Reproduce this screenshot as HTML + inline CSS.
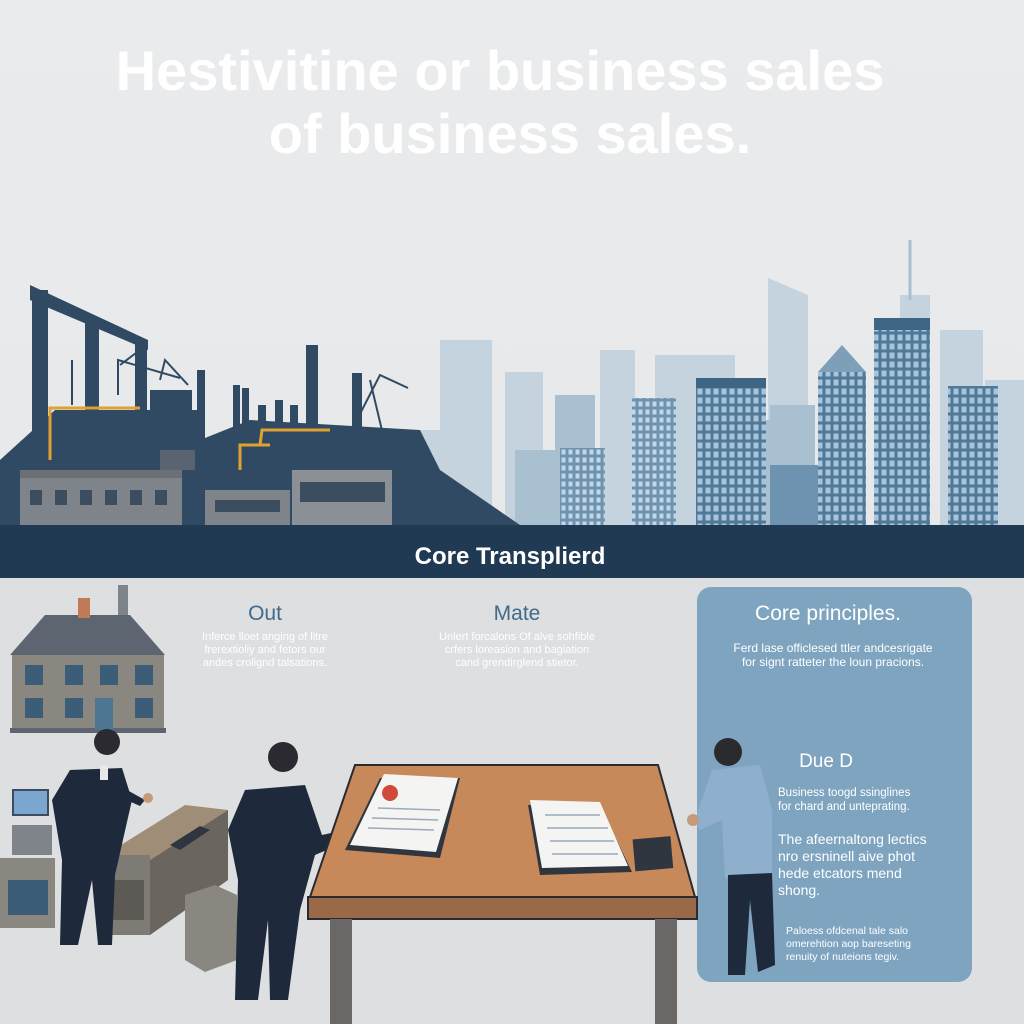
<!DOCTYPE html>
<html><head><meta charset="utf-8"><style>
html,body{margin:0;padding:0;width:1024px;height:1024px;overflow:hidden;font-family:"Liberation Sans",sans-serif}
</style></head><body>
<svg width="1024" height="1024" viewBox="0 0 1024 1024" xmlns="http://www.w3.org/2000/svg" font-family="Liberation Sans, sans-serif">
<defs>
<linearGradient id="bg" x1="0" y1="0" x2="0" y2="1"><stop offset="0" stop-color="#e9ebed"/><stop offset="1" stop-color="#e4e6e8"/></linearGradient>
<pattern id="win" width="8" height="9" patternUnits="userSpaceOnUse"><rect width="8" height="9" fill="#4f7899"/><rect x="1.5" y="1.5" width="5" height="6" fill="#a8c4d8"/></pattern>
<pattern id="win2" width="7" height="8" patternUnits="userSpaceOnUse"><rect width="7" height="8" fill="#6e93b0"/><rect x="1.5" y="1.5" width="4" height="5" fill="#c2d6e4"/></pattern>
</defs>
<rect width="1024" height="1024" fill="url(#bg)"/>
<text x="500" y="90" font-size="56" font-weight="bold" fill="#ffffff" text-anchor="middle">Hestivitine or business sales</text>
<text x="510" y="153" font-size="56" font-weight="bold" fill="#ffffff" text-anchor="middle">of business sales.</text>

<!-- far city -->
<g fill="#c5d3de">
<rect x="440" y="340" width="52" height="185"/><rect x="505" y="372" width="38" height="153"/><rect x="600" y="350" width="35" height="175"/><rect x="655" y="355" width="80" height="170"/>
<rect x="415" y="430" width="40" height="95"/><rect x="940" y="330" width="40" height="195"/><rect x="985" y="380" width="39" height="145"/>
<polygon points="768,278 808,295 808,525 768,525"/><rect x="900" y="295" width="30" height="230"/><rect x="955" y="330" width="28" height="60"/>
</g>
<g fill="#a9c0d1">
<rect x="555" y="395" width="40" height="130"/><rect x="770" y="405" width="45" height="120"/><rect x="515" y="450" width="50" height="75"/><rect x="740" y="420" width="30" height="105"/>
</g>
<!-- front city -->
<rect x="560" y="448" width="45" height="77" fill="url(#win2)"/>
<rect x="632" y="398" width="44" height="127" fill="url(#win2)"/>
<rect x="696" y="378" width="70" height="147" fill="url(#win)"/>
<rect x="696" y="378" width="70" height="10" fill="#3f6585"/>
<rect x="818" y="372" width="48" height="153" fill="url(#win)"/>
<polygon points="818,372 842,345 866,372" fill="#7e9fb8"/>
<rect x="874" y="318" width="56" height="207" fill="url(#win)"/>
<rect x="874" y="318" width="56" height="12" fill="#3f6585"/>
<line x1="910" y1="240" x2="910" y2="300" stroke="#a9c0d1" stroke-width="3"/>
<rect x="948" y="386" width="50" height="139" fill="url(#win)"/>
<rect x="770" y="465" width="48" height="60" fill="#6e93b0"/>

<!-- industrial -->
<g fill="#2f4a62">
<polygon points="30,285 148,340 148,350 30,300"/>
<rect x="32" y="290" width="16" height="235"/><rect x="85" y="320" width="14" height="205"/><rect x="135" y="340" width="12" height="185"/>
<rect x="197" y="370" width="8" height="155"/><rect x="233" y="385" width="7" height="140"/><rect x="242" y="388" width="7" height="137"/>
<rect x="258" y="405" width="8" height="120"/><rect x="275" y="400" width="8" height="125"/><rect x="290" y="405" width="8" height="120"/>
<rect x="306" y="345" width="12" height="180"/><rect x="352" y="373" width="10" height="152"/>
<rect x="150" y="390" width="42" height="40"/>
<polygon points="0,460 55,410 200,410 200,525 0,525"/>
<polygon points="200,440 250,420 420,430 440,470 520,525 200,525"/>
</g>
<g stroke="#2f4a62" stroke-width="2" fill="none">
<path d="M118,395 L118,360 L180,378 M120,365 L140,350 M345,443 L380,375 L408,388 M370,380 L385,443 M160,380 L165,360 L188,385 M72,405 L72,360"/>
</g>
<path d="M50,460 L50,408 L140,408 M240,470 L240,445 L270,445 M260,445 L262,430 L330,430" stroke="#e0a032" stroke-width="3" fill="none"/>
<rect x="20" y="470" width="162" height="55" fill="#7e848a"/>
<rect x="20" y="470" width="162" height="8" fill="#6a7076"/>
<g fill="#3b4d5f"><rect x="30" y="490" width="12" height="15"/><rect x="55" y="490" width="12" height="15"/><rect x="80" y="490" width="12" height="15"/><rect x="105" y="490" width="12" height="15"/><rect x="130" y="490" width="12" height="15"/><rect x="155" y="490" width="12" height="15"/></g>
<rect x="205" y="490" width="85" height="35" fill="#7e848a"/>
<rect x="292" y="470" width="100" height="55" fill="#8a9096"/>
<g fill="#3b4d5f"><rect x="300" y="482" width="85" height="20"/><rect x="215" y="500" width="65" height="12"/></g>
<rect x="160" y="450" width="35" height="20" fill="#5a6470"/>

<!-- band -->
<rect x="0" y="525" width="1024" height="53" fill="#1f3a52"/>
<text x="510" y="564" font-size="24" font-weight="bold" fill="#ffffff" text-anchor="middle">Core Transplierd</text>

<!-- lower bg -->
<rect x="0" y="578" width="1024" height="446" fill="#dedfe1"/>

<!-- columns -->
<text x="265" y="620" font-size="21" fill="#3f6a8c" text-anchor="middle">Out</text>
<g font-size="11" fill="#ffffff" text-anchor="middle">
<text x="265" y="640">Inferce lloet anging of litre</text>
<text x="265" y="653">frerextioliy and fetors our</text>
<text x="265" y="666">andes crolignd talsations.</text>
<text x="517" y="640">Unlert forcalons Of alve sohfible</text>
<text x="517" y="653">crfers loreasion and bagiation</text>
<text x="517" y="666">cand grendirglend stietor.</text>
</g>
<text x="517" y="620" font-size="21" fill="#3f6a8c" text-anchor="middle">Mate</text>

<!-- panel -->
<rect x="697" y="587" width="275" height="395" rx="14" fill="#7ea4c0"/>
<text x="828" y="620" font-size="21" fill="#ffffff" text-anchor="middle">Core principles.</text>
<text x="833" y="652" font-size="12" fill="#ffffff" text-anchor="middle">Ferd lase officlesed ttler andcesrigate</text>
<text x="833" y="666" font-size="12" fill="#ffffff" text-anchor="middle">for signt ratteter the loun pracions.</text>
<text x="826" y="767" font-size="19" fill="#ffffff" text-anchor="middle">Due D</text>
<g fill="#ffffff">
<text x="778" y="796" font-size="11.5">Business toogd ssinglines</text>
<text x="778" y="810" font-size="11.5">for chard and unteprating.</text>
<text x="778" y="844" font-size="14">The afeernaltong lectics</text>
<text x="778" y="861" font-size="14">nro ersninell aive phot</text>
<text x="778" y="878" font-size="14">hede etcators mend</text>
<text x="778" y="895" font-size="14">shong.</text>
<text x="786" y="934" font-size="10.5">Paloess ofdcenal tale salo</text>
<text x="786" y="947" font-size="10.5">omerehtion aop bareseting</text>
<text x="786" y="960" font-size="10.5">renuity of nuteions tegiv.</text>
</g>

<!-- house -->
<polygon points="10,655 45,615 130,615 165,655" fill="#5d6670"/>
<rect x="78" y="598" width="12" height="20" fill="#c07a55"/><rect x="118" y="585" width="10" height="30" fill="#7e848a"/>
<rect x="12" y="655" width="152" height="77" fill="#8a8680"/>
<rect x="10" y="728" width="156" height="5" fill="#5d6670"/>
<g fill="#3b5d78"><rect x="25" y="665" width="18" height="20"/><rect x="65" y="665" width="18" height="20"/><rect x="100" y="665" width="18" height="20"/><rect x="135" y="665" width="18" height="20"/><rect x="25" y="698" width="18" height="20"/><rect x="65" y="698" width="18" height="20"/><rect x="135" y="698" width="18" height="20"/><rect x="95" y="698" width="18" height="32" fill="#4d7690"/></g>

<!-- left desk area -->
<rect x="13" y="790" width="35" height="25" fill="#7aa6cf" stroke="#3b4d5f" stroke-width="2"/>
<rect x="12" y="825" width="40" height="30" fill="#7e848a"/>
<rect x="0" y="858" width="55" height="70" fill="#8a8680"/><rect x="8" y="880" width="40" height="35" fill="#3b5d78"/>
<polygon points="105,855 185,805 228,810 150,860" fill="#a08d78"/>
<rect x="105" y="855" width="45" height="80" fill="#7e7a74"/><polygon points="150,860 228,810 228,880 150,935" fill="#6a665f"/>
<rect x="112" y="880" width="32" height="40" fill="#5d5a55"/>
<polygon points="170,845 200,826 210,830 180,850" fill="#2f3640"/>
<polygon points="185,895 215,885 237,895 237,960 205,972 185,960" fill="#8a8680"/>
<!-- person 1 -->
<circle cx="107" cy="742" r="13" fill="#2a2a30"/>
<path d="M70,770 L122,768 L132,800 L115,875 L112,945 L98,945 L92,880 L78,945 L60,945 L62,860 L52,800 Z" fill="#1e2a3c"/>
<rect x="100" y="765" width="8" height="15" fill="#e8e8e8"/>
<path d="M118,785 L145,800 L140,806 L115,795Z" fill="#1e2a3c"/><circle cx="148" cy="798" r="5" fill="#c49a7a"/>
<!-- person 2 -->
<circle cx="283" cy="757" r="15" fill="#2a2a30"/>
<path d="M245,790 L305,785 L322,835 L345,830 L350,840 L315,855 L300,910 L288,1000 L270,1000 L268,920 L258,1000 L235,1000 L238,880 L228,830 Z" fill="#1e2a3c"/>
<circle cx="355" cy="833" r="6" fill="#c49a7a"/>

<!-- table -->
<polygon points="355,765 658,765 695,897 310,897" fill="#c8895a" stroke="#2a2a30" stroke-width="2"/>
<rect x="308" y="897" width="389" height="22" fill="#9a6a48" stroke="#2a2a30" stroke-width="2"/>
<rect x="330" y="919" width="22" height="105" fill="#6a6866"/><rect x="655" y="919" width="22" height="105" fill="#6a6866"/>
<polygon points="380,778 460,778 440,858 345,850" fill="#2f3640"/>
<polygon points="384,774 458,778 436,852 350,845" fill="#f4f4f2"/>
<circle cx="390" cy="793" r="8" fill="#d04a3a"/>
<g stroke="#9aaabb" stroke-width="1.5"><line x1="378" y1="808" x2="440" y2="810"/><line x1="372" y1="818" x2="438" y2="820"/><line x1="368" y1="828" x2="434" y2="830"/></g>
<polygon points="528,805 600,805 632,872 540,875" fill="#2f3640"/>
<polygon points="530,800 600,802 628,866 542,868" fill="#f4f4f2"/>
<g stroke="#9aaabb" stroke-width="1.5"><line x1="545" y1="815" x2="600" y2="815"/><line x1="547" y1="828" x2="608" y2="828"/><line x1="550" y1="841" x2="614" y2="841"/><line x1="552" y1="854" x2="618" y2="854"/></g>
<rect x="634" y="838" width="38" height="32" fill="#2f3640" transform="rotate(-5 650 855)"/>

<!-- person 3 -->
<circle cx="728" cy="752" r="14" fill="#2a2a30"/>
<path d="M712,770 L760,765 L772,810 L772,875 L725,878 L722,820 L700,830 L695,820 Z" fill="#8fb0cc"/>
<path d="M728,875 L772,873 L775,965 L758,972 L750,900 L745,975 L728,975 Z" fill="#1e2a3c"/>
<circle cx="693" cy="820" r="6" fill="#c49a7a"/>
</svg>
</body></html>
